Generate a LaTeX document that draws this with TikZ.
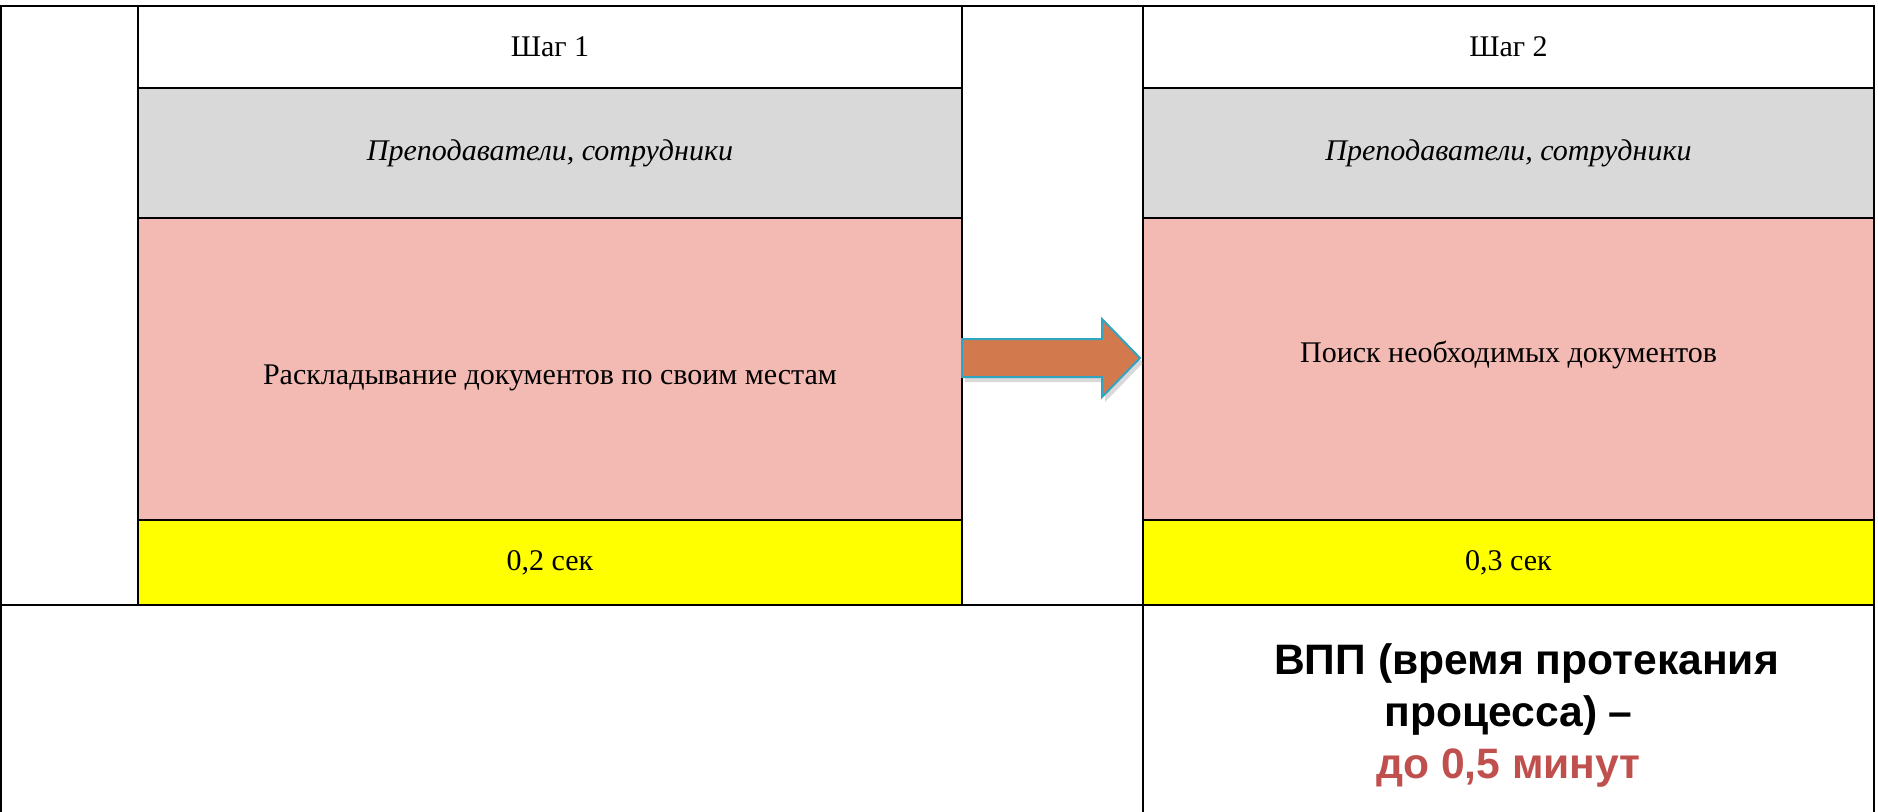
\documentclass[tikz,border=0pt]{standalone}
\usepackage{fontspec}
\setmainfont{Liberation Serif}
\newfontfamily\vppfont{Liberation Sans}
\usepackage{tikz}
\usetikzlibrary{positioning, calc, shadows}
\definecolor{cell-gray}{HTML}{D9D9D9}
\definecolor{cell-pink}{HTML}{F2BAB3}
\definecolor{cell-yellow}{HTML}{FFFF00}
\definecolor{arrow-orange}{HTML}{D27A4E}
\definecolor{arrow-blue}{HTML}{31A4C4}
\definecolor{vpp-red}{HTML}{C0504D}

\begin{document}
\begin{tikzpicture}[
    font=\fontsize{15}{18}\selectfont,
    cell/.style={draw, line width=1.3pt, outer sep=0pt, inner sep=0pt},
    wide/.style={cell, minimum width=412pt},
    narrow/.style={cell, minimum width=365.5pt},
    headcell/.style={fill=white, minimum height=41pt},
    rolecell/.style={fill=cell-gray, minimum height=65pt, font=\fontsize{15}{18}\selectfont\itshape},
    taskcell/.style={fill=cell-pink, minimum height=151pt},
    timecell/.style={fill=cell-yellow, minimum height=42.5pt},
    bigarrow/.style={fill=arrow-orange, draw=arrow-blue, line width=1pt, line join=miter,
        drop shadow={opacity=0.3, shadow xshift=1.5pt, shadow yshift=-2.5pt}}
]
    \useasboundingbox (0,0) rectangle (939pt,-405.5pt);

    \node (side) [cell, anchor=north west, minimum width=68.5pt, minimum height=299.5pt] at (0.5pt,-3pt) {};

    % step 1
    \node (head1) [wide, headcell, anchor=north west] at (side.north east) {Шаг 1};
    \node (role1) [wide, rolecell, below=0pt of head1] {Преподаватели, сотрудники};
    \node (task1) [wide, taskcell, below=0pt of role1,
        label={[yshift=-4.5pt]center:Раскладывание документов по своим местам}] {};
    \node (time1) [wide, timecell, below=0pt of task1] {0,2 сек};

    \node (gap) [cell, anchor=north west, minimum width=90.5pt, minimum height=299.5pt] at (head1.north east) {};

    % step 2
    \node (head2) [narrow, headcell, anchor=north west] at (gap.north east) {Шаг 2};
    \node (role2) [narrow, rolecell, below=0pt of head2] {Преподаватели, сотрудники};
    \node (task2) [narrow, taskcell, below=0pt of role2,
        label={[yshift=7pt]center:Поиск необходимых документов}] {};
    \node (time2) [narrow, timecell, below=0pt of task2] {0,3 сек};

    % bottom row
    \node (rest) [cell, anchor=north west, minimum width=571pt, minimum height=110pt] at (side.south west) {};
    \node (vpp) [narrow, anchor=north west, minimum height=110pt, align=center,
        font=\vppfont\bfseries\fontsize{21.3}{26}\selectfont] at (gap.south east)
        {\hspace*{18pt}ВПП (время протекания\\процесса) –\\\textcolor{vpp-red}{до 0,5 минут}};

    % arrow between the steps
    \coordinate (tail) at ($(task1.east)+(0,5.5pt)$);
    \coordinate (tip) at ($(task2.west)+(-1.5pt,5.5pt)$);
    \filldraw [bigarrow] (tail) ++(0,9.5pt) -- ++(70pt,0) -- ++(0,10pt) -- (tip)
        -- ++(-19pt,-19.5pt) -- ++(0,10pt) -- ++(-70pt,0) -- cycle;
\end{tikzpicture}
\end{document}
